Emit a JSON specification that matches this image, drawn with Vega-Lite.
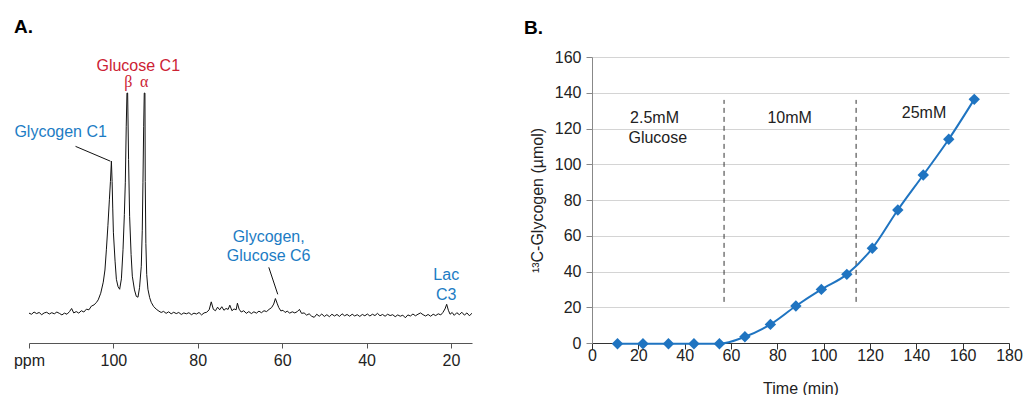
{
  "$schema": "https://vega.github.io/schema/vega-lite/v6.json",
  "padding": {"left": 13, "top": 18, "right": 0, "bottom": 0},
  "spacing": 52,
  "config": {
    "view": {"stroke": null},
    "font": "Liberation Sans",
    "axis": {"labelFont": "Liberation Sans", "labelFontSize": 16, "labelColor": "#222", "titleFont": "Liberation Sans", "titleFontSize": 16, "titleFontWeight": "normal", "titleColor": "#222", "labelFlush": false, "labelOverlap": false},
    "title": {"font": "Liberation Sans", "fontSize": 19, "fontWeight": "bold", "color": "#000"}
  },
  "datasets": {
    "spectrum": [
      {"ppm": 120, "intensity": 0.5}, {"ppm": 119.4, "intensity": 0.0}, {"ppm": 118.8, "intensity": 1.0}, {"ppm": 118.2, "intensity": 0.3},
      {"ppm": 117.6, "intensity": 0.8}, {"ppm": 117.0, "intensity": -0.2}, {"ppm": 116.4, "intensity": 0.6}, {"ppm": 115.8, "intensity": 0.9},
      {"ppm": 115.2, "intensity": 0.1}, {"ppm": 114.6, "intensity": 0.7}, {"ppm": 114.0, "intensity": 0.2}, {"ppm": 113.4, "intensity": 1.0},
      {"ppm": 112.8, "intensity": 0.4}, {"ppm": 112.2, "intensity": -0.3}, {"ppm": 111.6, "intensity": 0.5}, {"ppm": 111.0, "intensity": 0.0},
      {"ppm": 110.4, "intensity": 1.2}, {"ppm": 109.9, "intensity": 2.6}, {"ppm": 109.4, "intensity": 0.6}, {"ppm": 108.8, "intensity": 1.2},
      {"ppm": 108.2, "intensity": 0.5}, {"ppm": 107.6, "intensity": 1.6}, {"ppm": 107.0, "intensity": 1.0}, {"ppm": 106.4, "intensity": 2.3},
      {"ppm": 105.8, "intensity": 2.0}, {"ppm": 105.2, "intensity": 3.7}, {"ppm": 104.6, "intensity": 4.2}, {"ppm": 104.0, "intensity": 5.4},
      {"ppm": 103.6, "intensity": 6.5}, {"ppm": 103.0, "intensity": 9.5}, {"ppm": 102.4, "intensity": 14.5}, {"ppm": 102.0, "intensity": 20},
      {"ppm": 101.65, "intensity": 29.4}, {"ppm": 101.3, "intensity": 40}, {"ppm": 100.94, "intensity": 52}, {"ppm": 100.7, "intensity": 60},
      {"ppm": 100.47, "intensity": 69.2}, {"ppm": 100.3, "intensity": 60}, {"ppm": 100.15, "intensity": 48}, {"ppm": 100.0, "intensity": 37.1},
      {"ppm": 99.6, "intensity": 24}, {"ppm": 99.29, "intensity": 15.8}, {"ppm": 98.9, "intensity": 12.5}, {"ppm": 98.51, "intensity": 11.3},
      {"ppm": 98.1, "intensity": 16}, {"ppm": 97.71, "intensity": 29.4}, {"ppm": 97.4, "intensity": 45}, {"ppm": 97.17, "intensity": 59.7},
      {"ppm": 96.95, "intensity": 85}, {"ppm": 96.78, "intensity": 100}, {"ppm": 96.62, "intensity": 100}, {"ppm": 96.4, "intensity": 70},
      {"ppm": 96.15, "intensity": 44.3}, {"ppm": 95.8, "intensity": 27}, {"ppm": 95.51, "intensity": 17.2}, {"ppm": 95.0, "intensity": 11},
      {"ppm": 94.57, "intensity": 8.1}, {"ppm": 94.17, "intensity": 7.7}, {"ppm": 93.8, "intensity": 12}, {"ppm": 93.39, "intensity": 21.7},
      {"ppm": 93.15, "intensity": 38}, {"ppm": 92.99, "intensity": 59.7}, {"ppm": 92.82, "intensity": 85}, {"ppm": 92.68, "intensity": 100},
      {"ppm": 92.52, "intensity": 100}, {"ppm": 92.45, "intensity": 60}, {"ppm": 92.3, "intensity": 32}, {"ppm": 92.1, "intensity": 18},
      {"ppm": 91.81, "intensity": 11.3}, {"ppm": 91.4, "intensity": 7.5}, {"ppm": 91.03, "intensity": 5.4}, {"ppm": 90.5, "intensity": 3.6},
      {"ppm": 89.85, "intensity": 2.3}, {"ppm": 89.2, "intensity": 1.4}, {"ppm": 88.67, "intensity": 0.8}, {"ppm": 88.1, "intensity": 1.3},
      {"ppm": 87.5, "intensity": 0.4}, {"ppm": 86.9, "intensity": 1.1}, {"ppm": 86.3, "intensity": 0.2}, {"ppm": 85.7, "intensity": 0.9},
      {"ppm": 85.1, "intensity": 0.3}, {"ppm": 84.5, "intensity": 0.8}, {"ppm": 83.9, "intensity": -0.1}, {"ppm": 83.3, "intensity": 0.6},
      {"ppm": 82.7, "intensity": 0.2}, {"ppm": 82.1, "intensity": 0.7}, {"ppm": 81.5, "intensity": -0.2}, {"ppm": 80.9, "intensity": 0.5},
      {"ppm": 80.3, "intensity": 0.1}, {"ppm": 79.7, "intensity": 0.8}, {"ppm": 79.1, "intensity": -0.3}, {"ppm": 78.5, "intensity": 0.6},
      {"ppm": 77.9, "intensity": 0.9}, {"ppm": 77.3, "intensity": 2.0}, {"ppm": 76.8, "intensity": 5.6}, {"ppm": 76.3, "intensity": 2.2},
      {"ppm": 75.8, "intensity": 1.6}, {"ppm": 75.3, "intensity": 3.2}, {"ppm": 74.8, "intensity": 2.0}, {"ppm": 74.3, "intensity": 3.4},
      {"ppm": 73.8, "intensity": 1.8}, {"ppm": 73.3, "intensity": 2.6}, {"ppm": 72.8, "intensity": 2.2}, {"ppm": 72.4, "intensity": 4.1},
      {"ppm": 71.9, "intensity": 1.6}, {"ppm": 71.4, "intensity": 2.4}, {"ppm": 70.9, "intensity": 2.0}, {"ppm": 70.6, "intensity": 5.0},
      {"ppm": 70.2, "intensity": 2.3}, {"ppm": 69.7, "intensity": 1.0}, {"ppm": 69.1, "intensity": 1.6}, {"ppm": 68.5, "intensity": 0.4},
      {"ppm": 67.9, "intensity": 1.2}, {"ppm": 67.3, "intensity": 0.3}, {"ppm": 66.7, "intensity": 1.1}, {"ppm": 66.1, "intensity": 0.5},
      {"ppm": 65.5, "intensity": 1.4}, {"ppm": 64.9, "intensity": 0.7}, {"ppm": 64.3, "intensity": 1.6}, {"ppm": 63.7, "intensity": 1.2},
      {"ppm": 63.1, "intensity": 2.2}, {"ppm": 62.5, "intensity": 3.0}, {"ppm": 62.0, "intensity": 4.6}, {"ppm": 61.6, "intensity": 7.1},
      {"ppm": 61.2, "intensity": 5.0}, {"ppm": 60.8, "intensity": 3.0}, {"ppm": 60.3, "intensity": 1.5}, {"ppm": 59.8, "intensity": 1.8},
      {"ppm": 59.3, "intensity": 0.8}, {"ppm": 58.8, "intensity": 1.4}, {"ppm": 58.2, "intensity": 0.5}, {"ppm": 57.6, "intensity": 1.1},
      {"ppm": 57.0, "intensity": 0.6}, {"ppm": 56.4, "intensity": 1.2}, {"ppm": 55.9, "intensity": 2.2}, {"ppm": 55.4, "intensity": 0.4},
      {"ppm": 54.8, "intensity": 0.6}, {"ppm": 54.2, "intensity": -0.4}, {"ppm": 53.6, "intensity": 0.2}, {"ppm": 53.0, "intensity": -0.9},
      {"ppm": 52.4, "intensity": -1.4}, {"ppm": 51.8, "intensity": 0.0}, {"ppm": 51.2, "intensity": -0.9}, {"ppm": 50.6, "intensity": 0.1},
      {"ppm": 50.0, "intensity": -1.0}, {"ppm": 49.4, "intensity": -0.2}, {"ppm": 48.8, "intensity": -1.1}, {"ppm": 48.2, "intensity": 0.0},
      {"ppm": 47.6, "intensity": -0.8}, {"ppm": 47.0, "intensity": -0.1}, {"ppm": 46.4, "intensity": -1.0}, {"ppm": 45.8, "intensity": 0.2},
      {"ppm": 45.2, "intensity": -0.7}, {"ppm": 44.6, "intensity": -0.1}, {"ppm": 44.0, "intensity": -0.9}, {"ppm": 43.4, "intensity": 0.0},
      {"ppm": 42.8, "intensity": -0.8}, {"ppm": 42.2, "intensity": -0.2}, {"ppm": 41.6, "intensity": -1.0}, {"ppm": 41.0, "intensity": -0.1},
      {"ppm": 40.4, "intensity": -0.7}, {"ppm": 39.8, "intensity": 0.1}, {"ppm": 39.2, "intensity": -0.8}, {"ppm": 38.6, "intensity": 0.0},
      {"ppm": 38.0, "intensity": -0.6}, {"ppm": 37.4, "intensity": 0.4}, {"ppm": 36.8, "intensity": -0.7}, {"ppm": 36.2, "intensity": -0.1},
      {"ppm": 35.6, "intensity": -0.9}, {"ppm": 35.0, "intensity": 0.0}, {"ppm": 34.4, "intensity": -0.6}, {"ppm": 33.8, "intensity": -0.2},
      {"ppm": 33.2, "intensity": -1.1}, {"ppm": 32.6, "intensity": -0.3}, {"ppm": 32.0, "intensity": -0.9}, {"ppm": 31.4, "intensity": -0.4},
      {"ppm": 30.8, "intensity": -1.6}, {"ppm": 30.2, "intensity": -0.3}, {"ppm": 29.6, "intensity": -0.8}, {"ppm": 29.0, "intensity": 0.1},
      {"ppm": 28.4, "intensity": -0.7}, {"ppm": 27.8, "intensity": 0.0}, {"ppm": 27.2, "intensity": 0.6}, {"ppm": 26.6, "intensity": -0.2},
      {"ppm": 26.0, "intensity": -0.8}, {"ppm": 25.4, "intensity": -0.1}, {"ppm": 24.8, "intensity": -0.9}, {"ppm": 24.2, "intensity": 0.0},
      {"ppm": 23.6, "intensity": -0.6}, {"ppm": 23.0, "intensity": 0.2}, {"ppm": 22.4, "intensity": -0.3}, {"ppm": 21.9, "intensity": 0.8},
      {"ppm": 21.4, "intensity": 2.4}, {"ppm": 21.0, "intensity": 4.5}, {"ppm": 20.6, "intensity": 1.8}, {"ppm": 20.2, "intensity": 0.0},
      {"ppm": 19.7, "intensity": 0.8}, {"ppm": 19.2, "intensity": -0.5}, {"ppm": 18.6, "intensity": 0.7}, {"ppm": 18.0, "intensity": -0.2},
      {"ppm": 17.4, "intensity": 0.9}, {"ppm": 16.8, "intensity": -0.4}, {"ppm": 16.2, "intensity": 0.6}, {"ppm": 15.6, "intensity": -0.7},
      {"ppm": 15.0, "intensity": 0.5}
    ],
    "leaders": [
      {"ppm": 108.97, "intensity": 75.9, "ppm2": 100.71, "intensity2": 69.2},
      {"ppm": 63.16, "intensity": 21.2, "ppm2": 61.04, "intensity2": 9.0}
    ],
    "annotA": [
      {"ppm": 94.1, "intensity": 112.1, "label": "Glucose C1", "group": "glucose"},
      {"ppm": 112.5, "intensity": 82.3, "label": "Glycogen C1", "group": "glycogen"},
      {"ppm": 63.2, "intensity": 34.8, "label": "Glycogen,", "group": "glycogen"},
      {"ppm": 63.2, "intensity": 26.2, "label": "Glucose C6", "group": "glycogen"},
      {"ppm": 21.1, "intensity": 17.6, "label": "Lac", "group": "glycogen"},
      {"ppm": 21.1, "intensity": 8.6, "label": "C3", "group": "glycogen"}
    ],
    "greek": [
      {"ppm": 96.46, "intensity": 104.9, "label": "β", "group": "glucose"},
      {"ppm": 92.68, "intensity": 104.9, "label": "α", "group": "glucose"}
    ],
    "glycogen": [
      {"time": 11, "umol": -0.4}, {"time": 22, "umol": -0.4}, {"time": 33, "umol": -0.4}, {"time": 44, "umol": -0.4},
      {"time": 55, "umol": -0.4}, {"time": 66, "umol": 3.5}, {"time": 77, "umol": 10.4}, {"time": 88, "umol": 20.7},
      {"time": 99, "umol": 30.0}, {"time": 110, "umol": 38.4}, {"time": 121, "umol": 53.0}, {"time": 132, "umol": 74.4},
      {"time": 143, "umol": 94.0}, {"time": 154, "umol": 114.0}, {"time": 165, "umol": 136.3}
    ],
    "phases": [
      {"time": 57, "lo": 23, "hi": 136},
      {"time": 114, "lo": 23, "hi": 136}
    ],
    "annotB": [
      {"time": 27, "umol": 126, "label": "2.5mM"},
      {"time": 28.4, "umol": 114.6, "label": "Glucose"},
      {"time": 85.3, "umol": 126, "label": "10mM"},
      {"time": 143.3, "umol": 128.8, "label": "25mM"}
    ]
  },
  "hconcat": [
    {
      "width": 443,
      "height": 286,
      "title": {"text": "A.", "anchor": "start", "frame": "group", "dx": -15, "offset": 20},
      "layer": [
        {
          "data": {"name": "spectrum"},
          "mark": {"type": "line", "color": "#111", "strokeWidth": 1, "clip": true},
          "encoding": {
            "x": {"field": "ppm", "type": "quantitative", "scale": {"domain": [15, 120], "reverse": true, "nice": false, "zero": false},
                  "axis": {"values": [120, 100, 80, 60, 40, 20], "labelExpr": "datum.value == 120 ? 'ppm' : datum.label", "grid": false, "title": null, "domainColor": "#555", "tickColor": "#555", "tickSize": 5, "labelPadding": 4, "labelFontSize": 16}},
            "y": {"field": "intensity", "type": "quantitative", "scale": {"domain": [-13, 116.3], "nice": false, "zero": false}, "axis": null}
          }
        },
        {
          "data": {"name": "leaders"},
          "mark": {"type": "rule", "color": "#111", "strokeWidth": 1},
          "encoding": {
            "x": {"field": "ppm", "type": "quantitative"},
            "y": {"field": "intensity", "type": "quantitative"},
            "x2": {"field": "ppm2"},
            "y2": {"field": "intensity2"}
          }
        },
        {
          "data": {"name": "annotA"},
          "mark": {"type": "text", "fontSize": 16, "font": "Liberation Sans", "align": "center", "baseline": "middle"},
          "encoding": {
            "x": {"field": "ppm", "type": "quantitative"},
            "y": {"field": "intensity", "type": "quantitative"},
            "text": {"field": "label"},
            "color": {"field": "group", "type": "nominal", "scale": {"domain": ["glucose", "glycogen"], "range": ["#cc2233", "#1c7cc4"]}, "legend": null}
          }
        },
        {
          "data": {"name": "greek"},
          "mark": {"type": "text", "fontSize": 16, "font": "Liberation Serif", "align": "center", "baseline": "middle"},
          "encoding": {
            "x": {"field": "ppm", "type": "quantitative"},
            "y": {"field": "intensity", "type": "quantitative"},
            "text": {"field": "label"},
            "color": {"field": "group", "type": "nominal", "scale": {"domain": ["glucose", "glycogen"], "range": ["#cc2233", "#1c7cc4"]}, "legend": null}
          }
        }
      ]
    },
    {
      "width": 417,
      "height": 286,
      "title": {"text": "B.", "anchor": "start", "frame": "group", "dx": -68, "offset": 11},
      "encoding": {
        "x": {"field": "time", "type": "quantitative", "scale": {"domain": [0, 180], "nice": false},
              "axis": {"values": [0, 20, 40, 60, 80, 100, 120, 140, 160, 180], "tickCount": 10, "grid": false, "title": "Time (min)", "domainColor": "#333", "tickColor": "#333", "tickSize": 6, "labelPadding": -2, "titlePadding": 17, "labelFontSize": 16}},
        "y": {"field": "umol", "type": "quantitative", "scale": {"domain": [0, 160], "nice": false},
              "axis": {"values": [0, 20, 40, 60, 80, 100, 120, 140, 160], "tickCount": 9, "grid": true, "gridColor": "#d4d4d4", "title": "¹³C-Glycogen (µmol)", "domainColor": "#888", "tickColor": "#888", "tickSize": 6, "labelPadding": 5, "titlePadding": 9, "labelOverlap": false, "labelFontSize": 16}}
      },
      "layer": [
        {
          "data": {"name": "phases"},
          "mark": {"type": "rule", "color": "#333", "strokeWidth": 1, "strokeDash": [5, 4]},
          "encoding": {
            "y": {"field": "lo", "type": "quantitative"},
            "y2": {"field": "hi"}
          }
        },
        {
          "data": {"name": "glycogen"},
          "mark": {"type": "line", "color": "#1f74c1", "strokeWidth": 2, "interpolate": "monotone"}
        },
        {
          "data": {"name": "glycogen"},
          "mark": {"type": "point", "shape": "diamond", "filled": true, "size": 130, "color": "#1f74c1", "opacity": 1}
        },
        {
          "data": {"name": "annotB"},
          "mark": {"type": "text", "fontSize": 16, "font": "Liberation Sans", "align": "center", "baseline": "middle", "color": "#222"},
          "encoding": {
            "text": {"field": "label"}
          }
        }
      ]
    }
  ]
}
